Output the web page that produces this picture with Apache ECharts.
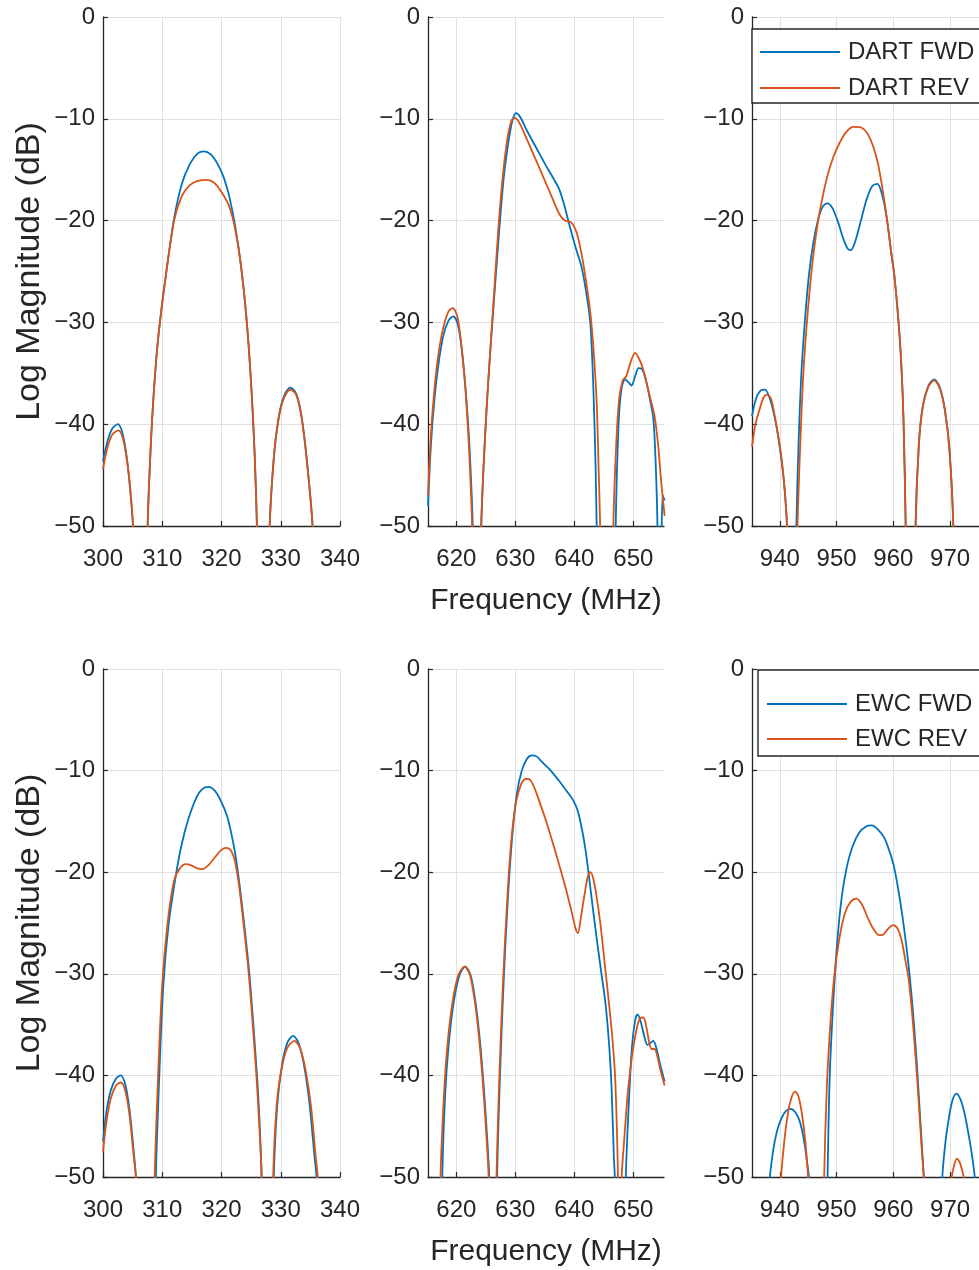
<!DOCTYPE html>
<html>
<head>
<meta charset="utf-8">
<script src="https://cdn.jsdelivr.net/npm/echarts@6.0.0/dist/echarts.min.js"></script>
<style>html,body{margin:0;padding:0;background:#fff}#c{width:979px;height:1270px}</style>
</head>
<body>
<div id="c"></div>
<script>
// ---------------- data ----------------
const yTicks = [0, -10, -20, -30, -40, -50];
const xRange1 = [300, 340];
const xRange2 = [615.2, 655.2];
const xRange3 = [935.1, 975.1];
const xTicks1 = [300, 310, 320, 330, 340];
const xTicks2 = [620, 630, 640, 650];
const xTicks3 = [940, 950, 960, 970];
const legendTop = ['DART FWD', 'DART REV'];
const legendBottom = ['EWC FWD', 'EWC REV'];

// DART, 300-340 MHz
const dart1Fwd = [[300,-43.6],[300.8,-41.6],[301.6,-40.4],[302.5,-40.0],[303.3,-40.9],[304.0,-43.2],[304.6,-46.5],[305.1,-50.5],[306.3,-80],
[307.5,-50.5],[308.2,-40.5],[309.0,-33.5],[309.7,-29.5],[310.7,-25.0],[312.0,-19.8],[313.3,-16.4],[314.7,-14.4],[316.0,-13.4],[317.0,-13.2],[318.2,-13.5],[319.4,-14.5],[320.4,-15.8],[321.3,-17.6],[322.3,-20.5],[323.3,-24.5],[324.2,-29.5],[325.0,-36],[325.6,-43],[326.0,-50.5],[327.0,-80],
[328.1,-50.5],[328.8,-43.5],[329.6,-39.5],[330.5,-37.3],[331.6,-36.4],[332.6,-37.0],[333.5,-39.2],[334.4,-43.5],[335.4,-50.5],[336.5,-80]];
const dart1Rev = [[300,-44.4],[300.8,-42.2],[301.6,-41.0],[302.6,-40.6],[303.4,-41.5],[304.1,-43.8],[304.7,-47],[305.1,-50.5],[306.3,-80],
[307.5,-50.5],[308.2,-40.5],[309.0,-33.5],[309.7,-29.5],[310.7,-25.0],[312.0,-20.0],[313.3,-17.6],[314.7,-16.5],[316.0,-16.1],[317.5,-16.0],[318.8,-16.3],[320.0,-17.2],[321.3,-18.6],[322.3,-20.8],[323.3,-24.5],[324.2,-29.5],[325.0,-36],[325.6,-43],[326.0,-50.5],[327.0,-80],
[328.1,-50.5],[328.8,-43.5],[329.6,-39.6],[330.5,-37.5],[331.6,-36.6],[332.6,-37.1],[333.5,-39.3],[334.4,-43.6],[335.4,-50.5],[336.5,-80]];

// DART, 615-655 MHz
const dart2Fwd = [[615.2,-48],[615.7,-42],[616.3,-37.5],[617.0,-34],[617.8,-31.3],[618.7,-29.8],[619.5,-29.4],[620.3,-30.3],[621.0,-33],[621.7,-37.5],[622.3,-43],[622.8,-50.5],[623.5,-80],
[624.2,-50.5],[624.8,-42],[625.5,-35],[626.3,-28.5],[627.2,-21.5],[628.0,-16],[628.8,-12.4],[629.5,-10.2],[630.1,-9.45],[630.8,-9.8],[632.0,-11.2],[633.5,-12.8],[635.0,-14.4],[636.5,-15.9],[637.5,-17.0],[638.3,-18.5],[639.2,-20.5],[640.2,-22.6],[641.2,-24.5],[642.0,-27],[642.7,-30],[643.2,-36],[643.6,-44],[643.8,-50.5],[644.6,-80],
[646.4,-80],[647.0,-50.5],[647.5,-40],[648.0,-36.5],[648.6,-35.6],[649.2,-35.9],[649.7,-36.2],[650.3,-35.3],[650.9,-34.5],[651.5,-34.6],[652.1,-35.6],[652.8,-37.5],[653.4,-39.5],[653.8,-44],[654.1,-50.5],[654.4,-80],[654.8,-50.5],[655.0,-47],[655.3,-47.5]];
const dart2Rev = [[615.2,-47],[615.7,-41],[616.3,-36.5],[617.0,-33],[617.8,-30.5],[618.7,-28.9],[619.4,-28.6],[620.2,-29.5],[620.9,-32.5],[621.6,-37],[622.2,-43],[622.7,-50.5],[623.5,-80],
[624.2,-50.5],[624.8,-42],[625.5,-35],[626.3,-28],[627.1,-21],[627.9,-15.5],[628.7,-11.8],[629.4,-10.1],[629.9,-9.9],[630.6,-10.3],[631.8,-11.8],[633.3,-13.8],[634.8,-15.8],[636.2,-17.7],[637.5,-19.4],[638.4,-20.0],[639.5,-20.2],[640.4,-21.2],[641.3,-23.5],[642.0,-26],[642.7,-29],[643.3,-33],[643.8,-38],[644.1,-44],[644.4,-50.5],[645.2,-80],
[646.1,-80],[646.6,-50.5],[647.1,-42],[647.6,-37.5],[648.2,-35.7],[648.8,-35.3],[649.6,-33.8],[650.3,-33.0],[650.9,-33.5],[651.5,-34.3],[652.2,-35.8],[652.9,-37.5],[653.6,-39.2],[654.2,-42],[654.7,-45.5],[655.3,-49]];

// DART, 935-975 MHz
const dart3Fwd = [[935.1,-39.2],[935.8,-37.5],[936.6,-36.7],[937.4,-36.6],[938.3,-37.6],[939.2,-39.6],[940.0,-42.3],[940.7,-45.5],[941.3,-50.5],[942.2,-80],
[942.9,-50.5],[943.3,-42],[943.8,-35],[944.4,-30],[945.1,-25.5],[945.9,-22.2],[946.8,-19.8],[947.6,-18.6],[948.4,-18.3],[949.3,-18.8],[950.3,-20.2],[951.2,-21.8],[952.0,-22.8],[952.5,-22.9],[953.2,-22.2],[954.2,-20.2],[955.3,-17.9],[956.3,-16.6],[957.2,-16.4],[958.0,-17.4],[958.8,-19.6],[959.6,-23],[960.2,-25.5],[960.9,-29.8],[961.4,-34],[961.8,-39.6],[962.2,-50.5],[963.1,-80],
[963.9,-50.5],[964.5,-42],[965.2,-38.2],[966.2,-36.2],[967.2,-35.6],[968.2,-36.4],[969.1,-38.6],[969.9,-42.5],[970.6,-50.5],[971.5,-80]];
const dart3Rev = [[935.1,-42.2],[935.7,-40],[936.4,-38.6],[937.2,-37.3],[937.8,-37.1],[938.5,-37.6],[939.3,-39.8],[940.1,-42.5],[940.8,-46],[941.3,-50.5],[942.2,-80],
[943.1,-50.5],[943.6,-42],[944.1,-35.5],[944.7,-30.5],[945.4,-26],[946.0,-23],[946.7,-20.2],[947.5,-17.8],[948.4,-15.6],[949.4,-13.8],[950.5,-12.4],[951.7,-11.3],[953.0,-10.8],[954.5,-10.9],[955.6,-11.6],[956.5,-12.8],[957.3,-14.4],[958.1,-16.9],[958.9,-19.9],[959.6,-23],[960.2,-25.5],[960.9,-29.8],[961.4,-34],[961.8,-39.6],[962.2,-50.5],[963.1,-80],
[963.9,-50.5],[964.5,-42],[965.2,-38.3],[966.2,-36.3],[967.2,-35.7],[968.2,-36.5],[969.1,-38.7],[969.9,-42.6],[970.6,-50.5],[971.5,-80]];

// EWC, 300-340 MHz
const ewc1Fwd = [[300,-46.5],[300.6,-43.5],[301.3,-41.5],[302.2,-40.3],[303.0,-40.0],[303.8,-41.0],[304.5,-43.5],[305.1,-47],[305.6,-50.5],[306.8,-80],
[308.0,-80],[308.9,-50.5],[309.5,-40],[310.2,-31],[311.1,-25],[312.3,-20.3],[313.3,-17.2],[314.5,-14.6],[315.8,-12.6],[316.8,-11.8],[317.8,-11.6],[318.9,-12.0],[319.9,-13.0],[320.9,-14.4],[321.7,-16.3],[322.4,-18.5],[323.1,-21.5],[323.9,-25.5],[324.7,-30],[325.5,-36],[326.2,-42],[326.8,-50.5],[327.8,-80],
[328.8,-50.5],[329.4,-43],[330.2,-39],[331.1,-36.8],[332.1,-36.1],[333.0,-36.8],[333.9,-38.9],[334.8,-42.5],[335.7,-48],[336.1,-50.5],[337.0,-80]];
const ewc1Rev = [[300,-47.5],[300.6,-44.5],[301.3,-42.3],[302.2,-41.0],[303.0,-40.7],[303.8,-41.6],[304.5,-44],[305.1,-47.5],[305.6,-50.5],[306.8,-80],
[307.8,-80],[308.7,-50.5],[309.3,-40],[310.0,-31],[310.9,-25],[312.0,-20.8],[313.0,-19.6],[314.0,-19.2],[314.8,-19.3],[315.8,-19.6],[316.8,-19.7],[317.8,-19.3],[318.8,-18.6],[319.8,-17.9],[320.7,-17.6],[321.5,-17.8],[322.3,-19.0],[323.0,-21.5],[323.8,-25.5],[324.6,-30],[325.4,-36],[326.1,-42],[326.8,-50.5],[327.8,-80],
[328.7,-50.5],[329.3,-43],[330.1,-39.5],[331.1,-37.3],[332.3,-36.6],[333.3,-37.4],[334.2,-39.5],[335.1,-43],[335.9,-48],[336.3,-50.5],[337.2,-80]];

// EWC, 615-655 MHz
const ewc2Fwd = [[616.9,-80],[617.6,-50.5],[618.1,-42],[618.7,-37],[619.5,-33],[620.5,-30.2],[621.5,-29.3],[622.4,-30.1],[623.2,-32.6],[623.9,-36],[624.5,-40],[625.1,-45],[625.6,-50.5],[626.3,-80],
[626.9,-50.5],[627.4,-40],[628.0,-31],[628.7,-23],[629.4,-17],[630.2,-12.5],[631.0,-10.2],[631.9,-8.9],[632.8,-8.5],[633.6,-8.6],[634.6,-9.2],[636.0,-10.0],[637.4,-11.0],[638.7,-12.0],[639.8,-12.9],[640.6,-14.0],[641.3,-15.8],[641.9,-17.8],[642.5,-20.5],[643.2,-23.8],[643.9,-27],[644.6,-30],[645.3,-33],[645.9,-37],[646.3,-41],[646.7,-48],[646.9,-50.5],[647.8,-80],
[648.7,-50.5],[649.3,-42],[649.8,-37],[650.3,-34.6],[650.7,-34.0],[651.2,-34.6],[651.8,-36.0],[652.4,-37.0],[652.9,-36.8],[653.4,-36.6],[653.9,-37.3],[654.5,-38.8],[655.3,-40.6]];
const ewc2Rev = [[616.6,-80],[617.3,-50.5],[617.9,-42],[618.5,-37],[619.3,-33],[620.3,-30.2],[621.4,-29.3],[622.3,-30.1],[623.1,-32.6],[623.8,-36],[624.4,-40],[625.0,-45],[625.5,-50.5],[626.2,-80],
[626.8,-50.5],[627.3,-40],[627.9,-31],[628.6,-23],[629.3,-17],[630.1,-13.2],[631.0,-11.3],[631.8,-10.8],[632.5,-10.9],[633.3,-11.8],[634.3,-13.4],[635.4,-15.3],[636.5,-17.4],[637.6,-19.6],[638.6,-21.7],[639.5,-23.8],[640.2,-25.5],[640.6,-26.0],[641.1,-24.5],[641.7,-22.3],[642.3,-20.4],[642.7,-20.0],[643.2,-20.6],[643.8,-22.5],[644.4,-25],[645.1,-28.7],[645.8,-32.5],[646.4,-36],[646.9,-40],[647.2,-45],[647.4,-50.5],[647.7,-80],
[648.0,-50.5],[648.5,-46],[649.1,-41.5],[649.8,-38],[650.5,-35.6],[651.1,-34.4],[651.7,-34.3],[652.2,-35.2],[652.7,-36.8],[653.1,-37.4],[653.6,-37.4],[654.1,-38.2],[654.6,-39.5],[655.3,-41]];

// EWC, 935-975 MHz
const ewc3Fwd = [[937.3,-80],[938.2,-50.5],[938.8,-47.5],[939.5,-45.5],[940.3,-44.2],[941.1,-43.5],[941.9,-43.3],[942.7,-43.6],[943.5,-44.5],[944.2,-46.2],[944.8,-48.5],[945.2,-50.5],[946.5,-80],
[947.6,-80],[948.4,-50.5],[948.8,-40],[949.4,-33],[950.1,-27],[950.9,-22.5],[951.8,-19.5],[952.8,-17.5],[954.0,-16.1],[955.2,-15.5],[956.2,-15.4],[957.3,-15.8],[958.4,-16.6],[959.3,-17.9],[960.1,-19.4],[960.9,-21.8],[961.6,-24.3],[962.3,-27.3],[962.9,-30.3],[963.5,-34],[964.1,-38.5],[964.6,-43],[965.1,-47.5],[965.4,-50.5],[966.5,-80],
[967.8,-80],[968.6,-50.5],[969.1,-47],[969.7,-44.5],[970.4,-42.5],[971.1,-41.8],[971.8,-42.3],[972.5,-43.6],[973.2,-45.6],[973.9,-48],[974.4,-50.5],[975.3,-80]];
const ewc3Rev = [[939.4,-80],[940.2,-50.5],[940.7,-47],[941.3,-44.2],[942.0,-42.3],[942.7,-41.6],[943.3,-42.1],[943.9,-43.8],[944.5,-46.5],[945.0,-50.5],[946.3,-80],
[947.0,-80],[947.8,-50.5],[948.3,-41],[948.9,-35],[949.6,-30.2],[950.5,-26.5],[951.5,-24.0],[952.5,-22.9],[953.5,-22.6],[954.5,-23.2],[955.5,-24.5],[956.5,-25.6],[957.5,-26.2],[958.3,-26.1],[959.2,-25.5],[960.0,-25.2],[960.8,-25.6],[961.5,-26.8],[962.1,-28.6],[962.7,-30.5],[963.3,-33.8],[963.9,-38],[964.5,-42.8],[965.0,-47.2],[965.4,-50.5],[966.5,-80],
[969.3,-80],[970.2,-50.5],[970.7,-48.9],[971.2,-48.2],[971.8,-48.7],[972.5,-50.5],[973.5,-80]];

// ---------------- chart ----------------
const FONT = 'Liberation Sans, Arial, Helvetica, sans-serif';
const INK = '#262626';
const BLUE = '#0072BD';
const ORANGE = '#D95319';

const cols = [{left: 103, width: 237}, {left: 428, width: 236}, {left: 752, width: 237}];
const rows = [{top: 17, height: 509}, {top: 669, height: 508}];
const xRanges = [xRange1, xRange2, xRange3];
const xTickSets = [xTicks1, xTicks2, xTicks3];
const panels = [
  [[dart1Fwd, dart1Rev], [dart2Fwd, dart2Rev], [dart3Fwd, dart3Rev]],
  [[ewc1Fwd, ewc1Rev], [ewc2Fwd, ewc2Rev], [ewc3Fwd, ewc3Rev]]
];
const names = [legendTop, legendBottom];

const grid = [], xAxis = [], yAxis = [], series = [];
const minus = v => String(v).replace('-', '\u2212');

rows.forEach((r, ri) => {
  cols.forEach((c, ci) => {
    const gi = grid.length;
    grid.push({left: c.left, top: r.top, width: c.width, height: r.height, containLabel: false});
    xAxis.push({
      type: 'value', gridIndex: gi, min: xRanges[ci][0], max: xRanges[ci][1],
      axisLine: {show: true, onZero: false, lineStyle: {color: INK, width: 1.3}},
      axisTick: {show: true, inside: true, length: 5, customValues: xTickSets[ci], lineStyle: {color: INK, width: 1.2}},
      axisLabel: {customValues: xTickSets[ci], fontSize: 24, color: INK, fontFamily: FONT, margin: 21},
      splitLine: {show: true, lineStyle: {color: '#e0e0e0', width: 1}},
      name: ci === 1 ? 'Frequency (MHz)' : '',
      nameLocation: 'middle', nameGap: 60,
      nameTextStyle: {fontSize: 30, color: INK, fontFamily: FONT}
    });
    yAxis.push({
      type: 'value', gridIndex: gi, min: yTicks[yTicks.length - 1], max: yTicks[0], interval: 10,
      axisLine: {show: true, onZero: false, lineStyle: {color: INK, width: 1.3}},
      axisTick: {show: true, inside: true, length: 5, lineStyle: {color: INK, width: 1.2}},
      axisLabel: {fontSize: 24, color: INK, fontFamily: FONT, margin: 8, formatter: minus},
      splitLine: {show: true, lineStyle: {color: '#e0e0e0', width: 1}},
      name: ci === 0 ? 'Log Magnitude (dB)' : '',
      nameLocation: 'middle', nameGap: 56, nameRotate: 90,
      nameTextStyle: {fontSize: 34, color: INK, fontFamily: FONT}
    });
    const pair = panels[ri][ci];
    [BLUE, ORANGE].forEach((col, k) => {
      series.push({
        type: 'line', name: names[ri][k], xAxisIndex: gi, yAxisIndex: gi,
        data: pair[k], showSymbol: false, symbol: 'none', smooth: 0.3,
        clip: true, z: 2 + k,
        lineStyle: {color: col, width: 1.8}, itemStyle: {color: col}
      });
    });
  });
});

const legendBase = {
  orient: 'vertical', backgroundColor: '#ffffff', borderColor: INK, borderWidth: 1.4,
  borderRadius: 0, icon: 'rect', itemWidth: 80, itemHeight: 2,
  textStyle: {fontSize: 24, color: INK, fontFamily: FONT, padding: [0, 0, 0, 3]}
};

const option = {
  animation: false,
  backgroundColor: '#ffffff',
  grid, xAxis, yAxis, series,
  legend: [
    Object.assign({}, legendBase, {data: legendTop, left: 752, top: 29, itemGap: 12, padding: [11, 8, 3, 8]}),
    Object.assign({}, legendBase, {data: legendBottom, left: 758, top: 670, itemGap: 11, padding: [22, 8, 5, 9]})
  ]
};

const chart = echarts.init(document.getElementById('c'), null, {renderer: 'canvas'});
chart.setOption(option);
</script>
</body>
</html>
